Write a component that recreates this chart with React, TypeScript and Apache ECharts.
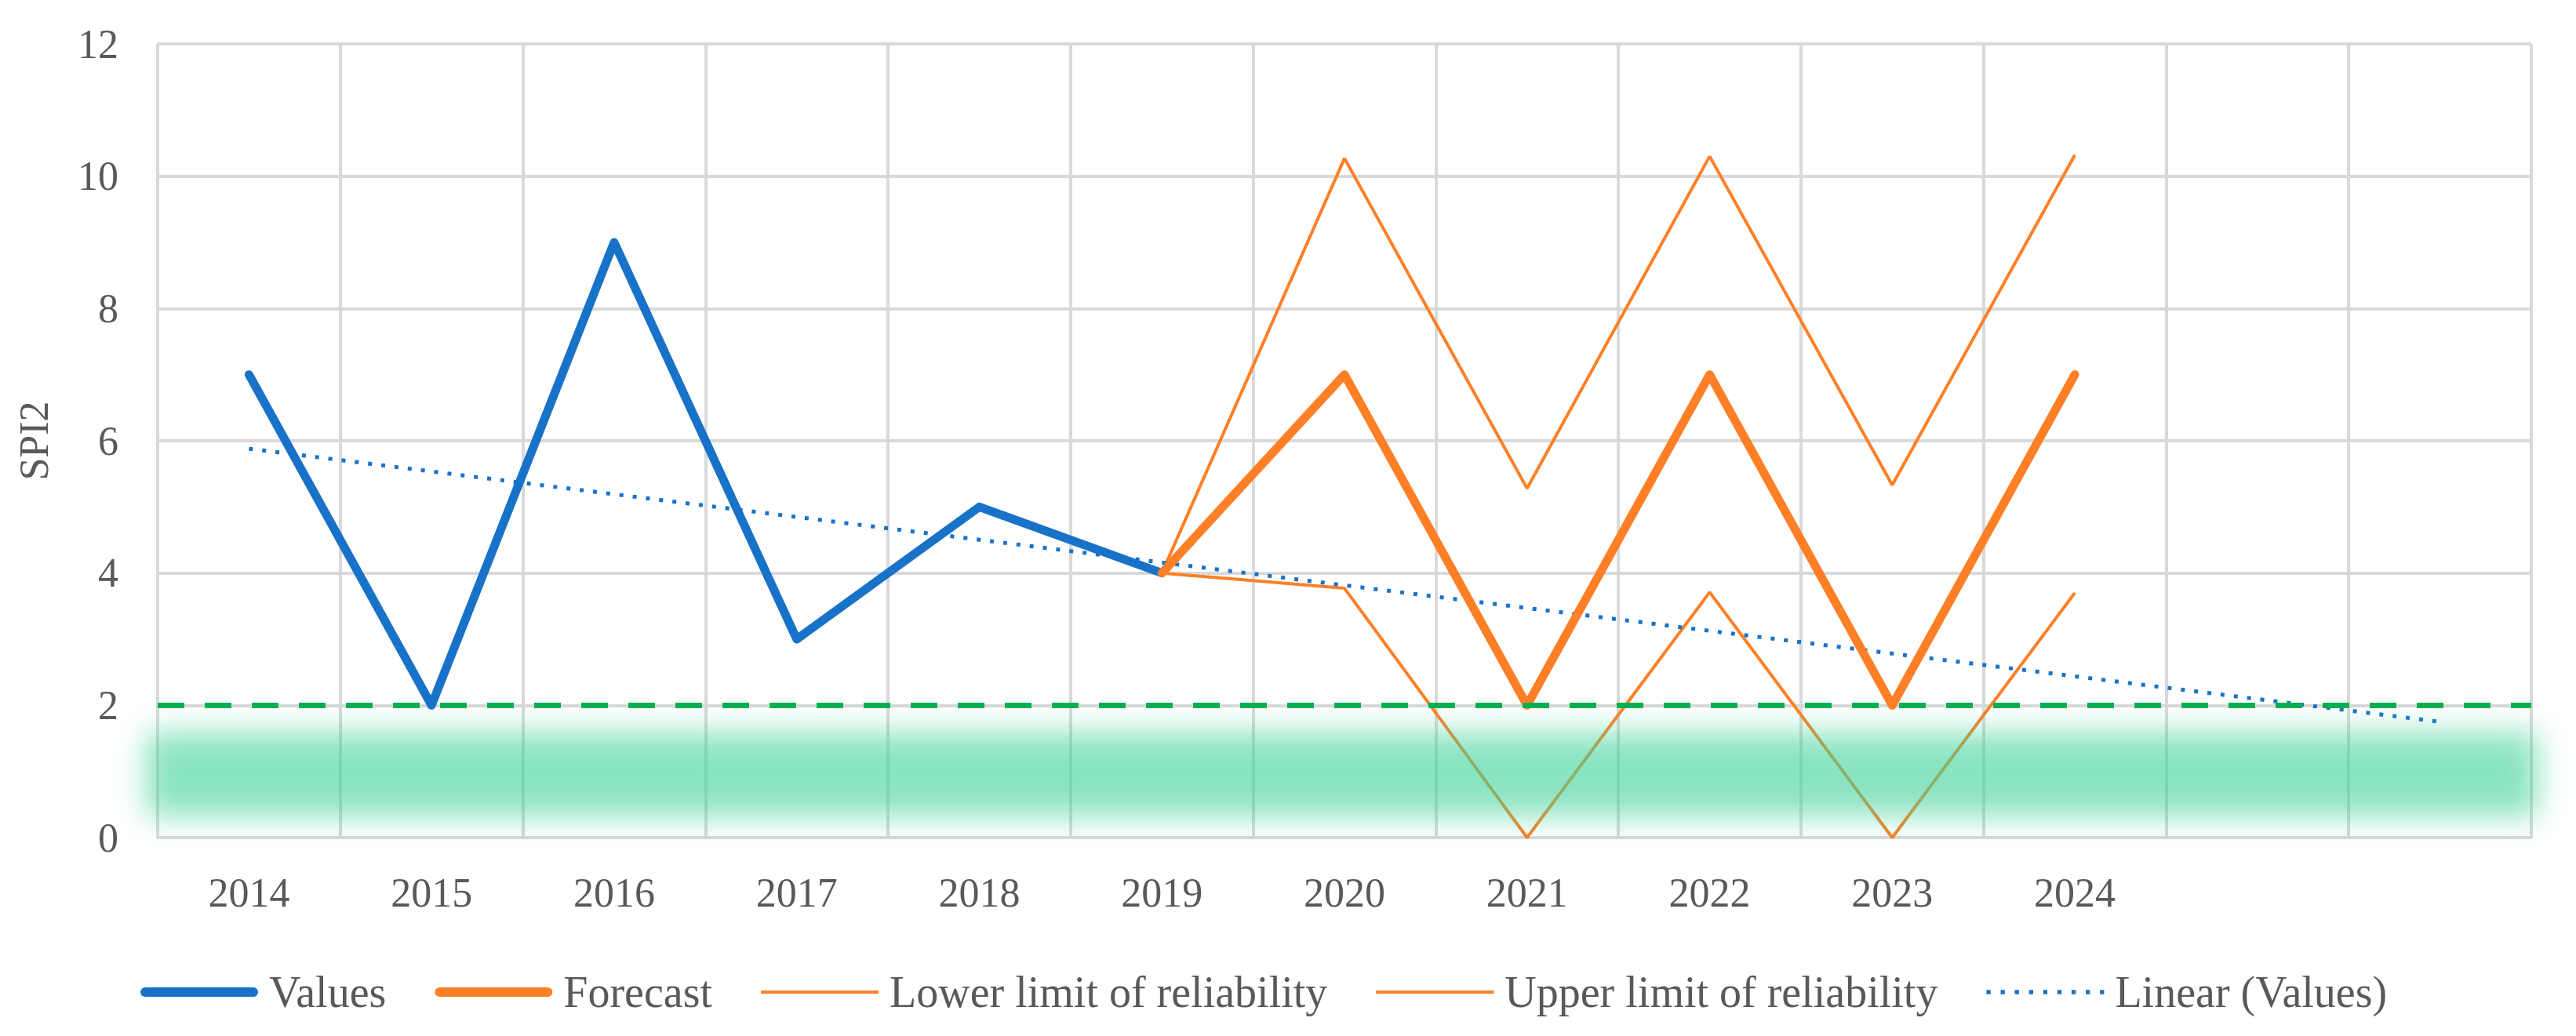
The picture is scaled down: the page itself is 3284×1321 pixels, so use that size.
import React, { useEffect, useRef } from "react";
import * as echarts from "echarts";

const categories = ["2014", "2015", "2016", "2017", "2018", "2019", "2020", "2021", "2022", "2023", "2024", "", ""];
const values = [7, 2, 9, 3, 5, 4, null, null, null, null, null, null, null];
const forecast = [null, null, null, null, null, 4, 7, 2, 7, 2, 7, null, null];
const lowerLimit = [null, null, null, null, null, 4, 3.77, 0, 3.71, 0, 3.7, null, null];
const upperLimit = [null, null, null, null, null, 4, 10.27, 5.28, 10.3, 5.33, 10.32, null, null];
const linearTrend = [5.88, null, null, null, null, null, null, null, null, null, null, null, 1.75];
const thresholdValue = 2;
const bandCore = [0.32, 1.59];
const legendNames = ["Values", "Forecast", "Lower limit of reliability", "Upper limit of reliability", "Linear (Values)"];

const BLUE = "#1872c8";
const ORANGE = "#ff7f27";
const GREEN = "#00b050";
const TEXT = "#595959";
const GRID = "#d9d9d9";
const FONT = "'Liberation Serif', 'DejaVu Serif', serif";

const ICON_THICK = "path://M6,0H144A6,6,0,0,1,144,12H6A6,6,0,0,1,6,0Z";
const ICON_THIN = "path://M0,0H150V4H0Z";
const ICON_DOTS =
  "path://" +
  [0, 17, 34, 51, 68, 85, 102, 119, 136].map((x) => `M${x},0h5v5h-5Z`).join("");

function makeBlurImage(w: number, h: number, blur: number, color: string): string {
  const pad = blur * 3;
  const c = document.createElement("canvas");
  c.width = Math.ceil(w + pad * 2);
  c.height = Math.ceil(h + pad * 2);
  const ctx = c.getContext("2d");
  if (!ctx) return "";
  (ctx as any).filter = `blur(${blur}px)`;
  ctx.fillStyle = color;
  ctx.fillRect(pad, pad, w, h);
  return c.toDataURL("image/png");
}

export default function App() {
  const ref = useRef<HTMLDivElement>(null);
  useEffect(() => {
    if (!ref.current) return;
    const chart = echarts.init(ref.current, null, { renderer: "svg" });
    chart.setOption({
      animation: false,
      backgroundColor: "#ffffff",
      textStyle: { fontFamily: FONT },
      grid: { left: 193, right: 49, top: 48, bottom: 245, containLabel: false },
      legend: {
        data: [
          { name: legendNames[0], icon: ICON_THICK },
          { name: legendNames[1], icon: ICON_THICK },
          { name: legendNames[2], icon: ICON_THIN },
          { name: legendNames[3], icon: ICON_THIN },
          { name: legendNames[4], icon: ICON_DOTS },
        ],
        left: 166,
        top: 1224,
        itemWidth: 150,
        itemHeight: 24,
        itemGap: 62,
        symbolKeepAspect: true,
        textStyle: { fontFamily: FONT, fontSize: 56, color: TEXT, padding: [0, 0, 0, 9] },
      },
      xAxis: {
        type: "category",
        data: categories,
        boundaryGap: true,
        axisLine: { show: true, lineStyle: { color: GRID, width: 4 } },
        axisTick: { show: false },
        axisLabel: { fontFamily: FONT, fontSize: 52, color: TEXT, margin: 44, interval: 0 },
        splitLine: { show: true, interval: 0, lineStyle: { color: GRID, width: 4 } },
      },
      yAxis: {
        type: "value",
        min: 0,
        max: 12,
        interval: 2,
        name: "SPI2",
        nameLocation: "middle",
        nameGap: 132,
        nameTextStyle: { fontFamily: FONT, fontSize: 52, color: TEXT },
        axisLine: { show: false },
        axisTick: { show: false },
        axisLabel: { fontFamily: FONT, fontSize: 52, color: TEXT, margin: 50 },
        splitLine: { show: true, lineStyle: { color: GRID, width: 4 } },
      },
      series: [
        {
          name: "Values",
          type: "line",
          data: values,
          symbol: "none",
          lineStyle: { color: BLUE, width: 11, cap: "round", join: "round" },
          itemStyle: { color: BLUE },
          z: 3,
        },
        {
          name: "Forecast",
          type: "line",
          data: forecast,
          symbol: "none",
          lineStyle: { color: ORANGE, width: 11, cap: "round", join: "round" },
          itemStyle: { color: ORANGE },
          z: 3,
        },
        {
          name: "Lower limit of reliability",
          type: "line",
          data: lowerLimit,
          symbol: "none",
          lineStyle: { color: ORANGE, width: 4 },
          itemStyle: { color: ORANGE },
          z: 2,
        },
        {
          name: "Upper limit of reliability",
          type: "line",
          data: upperLimit,
          symbol: "none",
          lineStyle: { color: ORANGE, width: 4 },
          itemStyle: { color: ORANGE },
          z: 2,
        },
        {
          name: "Linear (Values)",
          type: "line",
          data: linearTrend,
          connectNulls: true,
          symbol: "none",
          lineStyle: { color: BLUE, width: 5, type: [5, 12] },
          itemStyle: { color: BLUE },
          z: 2,
        },
        {
          name: "threshold",
          type: "line",
          data: [],
          silent: true,
          z: 8,
          markLine: {
            silent: true,
            symbol: "none",
            z: 8,
            label: { show: false },
            lineStyle: { color: GREEN, width: 7, type: [34, 26] },
            data: [{ yAxis: thresholdValue }],
          },
        },
      ],
    });

    // Soft green band, positioned through the chart's own scales
    const gridRect = (chart as any).getModel().getComponent("grid", 0).coordinateSystem.getRect();
    const yTop = chart.convertToPixel({ yAxisIndex: 0 }, bandCore[1]) as number;
    const yBottom = chart.convertToPixel({ yAxisIndex: 0 }, bandCore[0]) as number;
    const blur = 19;
    const bx = gridRect.x - 14;
    const bw = gridRect.width + 22;
    const bh = yBottom - yTop;
    const img = makeBlurImage(bw, bh, blur, "rgba(60,210,150,0.6)");
    const pad = blur * 3;
    chart.setOption({
      graphic: [
        {
          type: "image",
          silent: true,
          z: 6,
          x: bx - pad,
          y: yTop - pad,
          style: { image: img, x: 0, y: 0, width: Math.ceil(bw + pad * 2), height: Math.ceil(bh + pad * 2) },
        },
      ],
    });

    return () => chart.dispose();
  }, []);
  return <div ref={ref} style={{ width: "3268px", height: "1305px" }} />;
}
